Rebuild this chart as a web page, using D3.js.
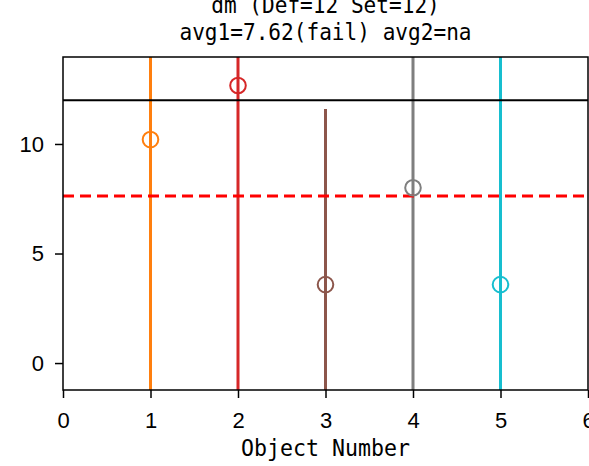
<!DOCTYPE html>
<html><head><meta charset="utf-8">
<script src="https://cdn.jsdelivr.net/npm/d3@7"></script>
<style>body{margin:0;background:#fff;} svg{display:block;}</style>
</head><body>
<script>
const objects = [1, 2, 3, 4, 5];
const values = [10.2, 12.67, 3.58, 8.0, 3.58];
const errors = [14, 15, 8.02, 10, 12];
const colors = ["#ff7f0e", "#d62728", "#8c564b", "#7f7f7f", "#17becf"];
const xTicks = [0, 1, 2, 3, 4, 5, 6];
const yTicks = [0, 5, 10];
const setLine = 12;
const avgLine = 7.62;
const titleLines = ["dm (Def=12 Set=12)", "avg1=7.62(fail) avg2=na"];
const xLabel = "Object Number";

(function () {
const W = 589, H = 466;
const mL = 63, mR = 588, mT = 57, mB = 390;
const font = "'DejaVu Sans Mono', monospace";
const tickFont = "'Liberation Sans', Arial, sans-serif";

const svg = d3.select("body").append("svg").attr("width", W).attr("height", H);
const x = d3.scaleLinear().domain([0, 6]).range([mL, mR]);
const y = d3.scaleLinear().domain([-1.23, 13.97]).range([mB, mT]);

svg.append("clipPath").attr("id", "clip").append("rect")
  .attr("x", mL).attr("y", mT).attr("width", mR - mL).attr("height", mB - mT);

const plot = svg.append("g").attr("clip-path", "url(#clip)");

plot.selectAll("line.err").data(objects).join("line").attr("class", "err")
  .attr("x1", d => x(d)).attr("x2", d => x(d))
  .attr("y1", (d, i) => y(values[i] - errors[i]))
  .attr("y2", (d, i) => y(values[i] + errors[i]))
  .attr("stroke", (d, i) => colors[i]).attr("stroke-width", 3);

plot.append("line").attr("x1", mL).attr("x2", mR)
  .attr("y1", y(setLine)).attr("y2", y(setLine))
  .attr("stroke", "#000").attr("stroke-width", 2);

plot.append("line").attr("x1", mL).attr("x2", mR)
  .attr("y1", y(avgLine)).attr("y2", y(avgLine))
  .attr("stroke", "#ff0000").attr("stroke-width", 3).attr("stroke-dasharray", "11,6");

plot.selectAll("circle.pt").data(objects).join("circle").attr("class", "pt")
  .attr("cx", d => x(d)).attr("cy", (d, i) => y(values[i])).attr("r", 7.8)
  .attr("fill", "none").attr("stroke", (d, i) => colors[i]).attr("stroke-width", 2);

const xAxis = svg.append("g").attr("transform", `translate(0,${mB})`)
  .call(d3.axisBottom(x).tickValues(xTicks).tickFormat(d3.format("d")).tickSize(8).tickPadding(14));
const yAxis = svg.append("g").attr("transform", `translate(${mL},0)`)
  .call(d3.axisLeft(y).tickValues(yTicks).tickFormat(d3.format("d")).tickSize(8).tickPadding(11));
[xAxis, yAxis].forEach(a => {
  a.select(".domain").remove();
  a.selectAll(".tick line").attr("stroke", "#000").attr("stroke-width", 1.5);
  a.selectAll(".tick text").attr("font-family", tickFont).attr("font-size", 22).attr("fill", "#000");
});
xAxis.selectAll(".tick text").attr("dy", "0.72em");

svg.append("rect").attr("x", mL).attr("y", mT).attr("width", mR - mL).attr("height", mB - mT)
  .attr("fill", "none").attr("stroke", "#000").attr("stroke-width", 1.5);

svg.append("text").attr("x", (mL + mR) / 2).attr("y", 456).attr("text-anchor", "middle")
  .attr("font-family", font).attr("font-size", 23)
  .attr("textLength", xLabel.length * 13).attr("lengthAdjust", "spacingAndGlyphs").text(xLabel);

svg.selectAll("text.title").data(titleLines).join("text").attr("class", "title")
  .attr("x", (mL + mR) / 2).attr("y", (d, i) => 13 + i * 27).attr("text-anchor", "middle")
  .attr("font-family", font).attr("font-size", 23)
  .attr("textLength", d => d.length * 12.7).attr("lengthAdjust", "spacingAndGlyphs")
  .text(d => d);
})();
</script>
</body></html>
